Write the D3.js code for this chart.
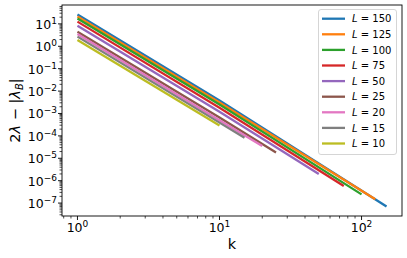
<!DOCTYPE html>
<html lang="en">
<head>
<meta charset="UTF-8">
<title>2λ - |λB| vs k</title>
<script src="https://cdn.jsdelivr.net/npm/d3@7/dist/d3.min.js"></script>
<style>
  body { margin: 0; background: #fff; }
  text { font-family: "DejaVu Sans", sans-serif; fill: #000; }
</style>
</head>
<body>
<svg id="chart" width="407" height="258"></svg>
<script>
// system sizes, one line per L (k runs from 1 to L)
const sizes = [150, 125, 100, 75, 50, 25, 20, 15, 10];
const colors = ['#1f77b4', '#ff7f0e', '#2ca02c', '#d62728', '#9467bd',
                '#8c564b', '#e377c2', '#7f7f7f', '#bcbd22'];
// values at k = 1, k = 10 and k = L
const valAtK1  = [26, 21.2, 17.3, 12.6, 8.3, 4.5, 3.5, 2.7, 1.9];
const valAtK10 = [3.8e-3, 3.1e-3, 2.5e-3, 1.8e-3, 1.2e-3, 6.6e-4, 5.0e-4, 3.9e-4, 2.9e-4];
const valAtKL  = [7.1e-8, 1.48e-7, 2.45e-7, 5.8e-7, 2.0e-6, 1.8e-5, 3.5e-5, 8.3e-5, 2.9e-4];

const xMajor = [1, 10, 100];
const yMajorExp = [1, 0, -1, -2, -3, -4, -5, -6, -7];

const svg = d3.select('#chart');
const pLeft = 62, pRight = 402, pTop = 5, pBottom = 216;

const series = sizes.map((L, i) => {
    let pts = [[1, valAtK1[i]]];
    if (L > 10) pts.push([10, valAtK10[i]]);
    pts.push([L, valAtKL[i]]);
    return {L: L, color: colors[i], pts: pts};
});

// matplotlib style 5% margins in log space
let allK = [], allV = [];
series.forEach(s => s.pts.forEach(p => { allK.push(p[0]); allV.push(p[1]); }));
let pad = (lo, hi) => { let a = Math.log10(lo), b = Math.log10(hi), m = (b - a) * 0.05; return [Math.pow(10, a - m), Math.pow(10, b + m)]; };

const x = d3.scaleLog().domain(pad(d3.min(allK), d3.max(allK))).range([pLeft, pRight]);
const y = d3.scaleLog().domain(pad(d3.min(allV), d3.max(allV))).range([pBottom, pTop]);

// minor ticks
let minors = (dom) => {
    let out = [];
    let lo = Math.floor(Math.log10(dom[0])), hi = Math.ceil(Math.log10(dom[1]));
    for (let e = lo; e <= hi; e++) for (let m = 2; m <= 9; m++) {
        let v = m * Math.pow(10, e);
        if (v >= dom[0] && v <= dom[1]) out.push(v);
    }
    return out;
};

const axes = svg.append('g');
axes.selectAll('.xminor').data(minors(x.domain())).enter().append('line')
    .attr('x1', d => x(d)).attr('x2', d => x(d)).attr('y1', pBottom).attr('y2', pBottom + 2.5)
    .attr('stroke', '#000').attr('stroke-width', 0.7);
axes.selectAll('.xmajor').data(xMajor).enter().append('line')
    .attr('x1', d => x(d)).attr('x2', d => x(d)).attr('y1', pBottom).attr('y2', pBottom + 4)
    .attr('stroke', '#000').attr('stroke-width', 0.9);
axes.selectAll('.yminor').data(minors(y.domain())).enter().append('line')
    .attr('y1', d => y(d)).attr('y2', d => y(d)).attr('x1', pLeft).attr('x2', pLeft - 2.5)
    .attr('stroke', '#000').attr('stroke-width', 0.7);
axes.selectAll('.ymajor').data(yMajorExp).enter().append('line')
    .attr('y1', d => y(Math.pow(10, d))).attr('y2', d => y(Math.pow(10, d))).attr('x1', pLeft).attr('x2', pLeft - 4)
    .attr('stroke', '#000').attr('stroke-width', 0.9);

// tick labels 10^n
let powLabel = (sel, e) => {
    sel.append('tspan').text('10');
    sel.append('tspan').attr('dy', -5).style('font-size', '9px').text(String(e).replace('-', '\u2212'));
};
xMajor.forEach(v => {
    let t = axes.append('text').attr('x', x(v)).attr('y', pBottom + 16).attr('text-anchor', 'middle')
        .style('font-size', '12.5px');
    powLabel(t, Math.round(Math.log10(v)));
});
yMajorExp.forEach(e => {
    let t = axes.append('text').attr('x', 57).attr('y', y(Math.pow(10, e)) + 5).attr('text-anchor', 'end')
        .style('font-size', '12.5px');
    powLabel(t, e);
});

// lines
const line = d3.line().x(d => x(d[0])).y(d => y(d[1]));
svg.append('g').selectAll('path').data(series).enter().append('path')
    .attr('d', d => line(d.pts))
    .attr('fill', 'none')
    .attr('stroke', d => d.color)
    .attr('stroke-width', 2.3);

// frame
svg.append('rect').attr('x', pLeft).attr('y', pTop).attr('width', pRight - pLeft).attr('height', pBottom - pTop)
    .attr('fill', 'none').attr('stroke', '#000').attr('stroke-width', 0.9);

// axis labels
svg.append('text').attr('x', (pLeft + pRight) / 2).attr('y', 249).attr('text-anchor', 'middle')
    .style('font-size', '14.5px').text('k');
let yl = svg.append('text').attr('transform', 'translate(20,' + ((pTop + pBottom) / 2) + ') rotate(-90)')
    .attr('text-anchor', 'middle').style('font-size', '14.5px');
yl.append('tspan').text('2');
yl.append('tspan').style('font-style', 'italic').text('λ');
yl.append('tspan').text(' \u2212 |');
yl.append('tspan').style('font-style', 'italic').text('λ');
yl.append('tspan').style('font-style', 'italic').style('font-size', '10px').attr('dy', 3).text('B');
yl.append('tspan').attr('dy', -3).text('|');

// legend
const lg = svg.append('g');
lg.append('rect').attr('x', 318.5).attr('y', 9.5).attr('width', 78).attr('height', 145).attr('rx', 2.5)
    .attr('fill', '#fff').attr('fill-opacity', 0.8).attr('stroke', '#d0d0d0').attr('stroke-width', 0.9);
const items = lg.selectAll('.item').data(series).enter().append('g')
    .attr('transform', (d, i) => 'translate(0,' + (18.7 + i * 15.6) + ')');
items.append('line').attr('x1', 322).attr('x2', 345).attr('stroke', d => d.color).attr('stroke-width', 2.3);
let lt = items.append('text').attr('x', 352).attr('y', 3.7).style('font-size', '10px');
lt.append('tspan').style('font-style', 'italic').text('L');
lt.append('tspan').text(d => ' = ' + d.L);
</script>
</body>
</html>
